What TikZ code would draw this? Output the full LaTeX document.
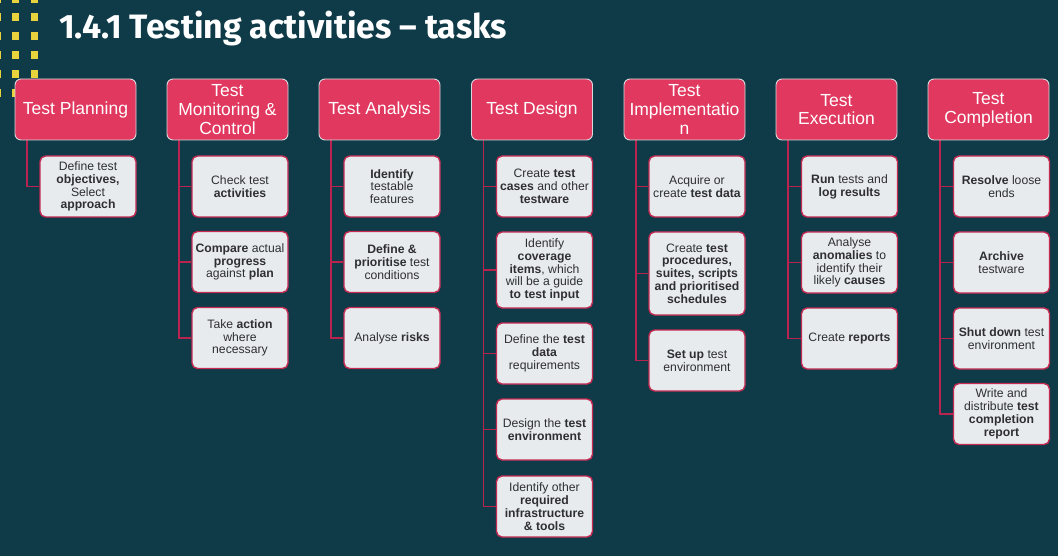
\documentclass[tikz,border=0pt]{standalone}
\usepackage{fontspec}
\usetikzlibrary{backgrounds}
\setmainfont{Liberation Sans}
\newfontfamily\titlefont{Fira Sans}
\definecolor{bgteal}{HTML}{0F3B49}
\definecolor{dotyellow}{HTML}{E9D33C}
\definecolor{headpink}{HTML}{E1385F}
\definecolor{headrim}{HTML}{D8D8DC}
\definecolor{cardfill}{HTML}{E8EBED}
\definecolor{cardrim}{HTML}{C42A52}
\definecolor{linkred}{HTML}{B8244F}
\definecolor{cardtext}{HTML}{2F2F33}
\tikzset{
  head/.style={draw=headrim, line width=0.9pt, fill=headpink, rounded corners=6pt,
    minimum width=121pt, minimum height=61pt, inner sep=1pt, align=center,
    text=white, font=\fontsize{17.5}{18.6}\selectfont},
  card/.style={draw=cardrim, line width=1.4pt, fill=cardfill, rounded corners=5.5pt,
    minimum width=96pt, minimum height=61pt, inner sep=1pt, align=center,
    text=cardtext, font=\fontsize{12.2}{12.8}\selectfont},
  link/.style={draw=linkred, line width=1.6pt}
}
\begin{document}
\begin{tikzpicture}[x=1pt,y=-1pt]
\useasboundingbox (0,0) rectangle (1058,556);

% yellow dot grid in the top-left corner
\foreach \cx in {-2.5,15.5,34.5}
  \foreach \cy in {-1,17,36,55,74,93}
    \fill[dotyellow] (\cx-3.75,\cy-3.75) rectangle (\cx+3.75,\cy+3.75);

% title
\node[anchor=base west, text=white, inner sep=0pt,
      font=\titlefont\bfseries\fontsize{33.8}{36}\selectfont] (title) at (59,38.5)
  {1.4.1 Testing activities – tasks};

% stage headers
\node[head] (h1) at (75.5,109.5) {Test Planning};
\node[head] (h2) at (227.5,109.5) {Test\\Monitoring \&\\Control};
\node[head] (h3) at (379.5,109.5) {Test Analysis};
\node[head] (h4) at (532,109.5) {Test Design};
\node[head] (h5) at (684.5,109.5) {Test\\Implementatio\\n};
\node[head] (h6) at (836.5,109.5) {Test\\Execution};
\node[head] (h7) at (988.5,109.5) {Test\\Completion};

% Test Planning
\node[card] (a1) at (88,186.5) {Define test\\\textbf{objectives,}\\Select\\\textbf{approach}};

% Test Monitoring & Control
\node[card] (b1) at (240,186.5) {Check test\\\textbf{activities}};
\node[card] (b2) at (240,262) {\textbf{Compare} actual\\\textbf{progress}\\against \textbf{plan}};
\node[card] (b3) at (240,338) {Take \textbf{action}\\where\\necessary};

% Test Analysis
\node[card] (c1) at (392,186.5) {\textbf{Identify}\\testable\\features};
\node[card] (c2) at (392,262) {\textbf{Define \&}\\\textbf{prioritise} test\\conditions};
\node[card] (c3) at (392,338) {Analyse \textbf{risks}};

% Test Design
\node[card] (d1) at (544.5,186.5) {Create \textbf{test}\\\textbf{cases} and other\\\textbf{testware}};
\node[card, minimum height=76pt] (d2) at (544.5,270) {Identify\\\textbf{coverage}\\\textbf{items}, which\\will be a guide\\\textbf{to test input}};
\node[card] (d3) at (544.5,353.5) {Define the \textbf{test}\\\textbf{data}\\requirements};
\node[card] (d4) at (544.5,429.5) {Design the \textbf{test}\\\textbf{environment}};
\node[card] (d5) at (544.5,506.5) {Identify other\\\textbf{required}\\\textbf{infrastructure}\\\textbf{\& tools}};

% Test Implementation
\node[card] (e1) at (697,186.5) {Acquire or\\create \textbf{test data}};
\node[card, minimum height=83pt] (e2) at (697,273.5) {Create \textbf{test}\\\textbf{procedures,}\\\textbf{suites, scripts}\\\textbf{and prioritised}\\\textbf{schedules}};
\node[card] (e3) at (697,360.5) {\textbf{Set up} test\\environment};

% Test Execution
\node[card] (f1) at (849.5,186.5) {\textbf{Run} tests and\\\textbf{log results}};
\node[card] (f2) at (849.5,262.5) {Analyse\\\textbf{anomalies} to\\identify their\\likely \textbf{causes}};
\node[card] (f3) at (849.5,338.5) {Create \textbf{reports}};

% Test Completion
\node[card] (g1) at (1001.5,186.5) {\textbf{Resolve} loose\\ends};
\node[card] (g2) at (1001.5,262.5) {\textbf{Archive}\\testware};
\node[card] (g3) at (1001.5,338.5) {\textbf{Shut down} test\\environment};
\node[card] (g4) at (1001.5,414) {Write and\\distribute \textbf{test}\\\textbf{completion}\\\textbf{report}};

% elbow links from each header down its left side to its cards, kept behind the boxes
\begin{scope}[on background layer]
  \fill[bgteal] (0,0) rectangle (1058,556);
  \foreach \h/\cards in {h1/{a1}, h2/{b1,b2,b3}, h3/{c1,c2,c3},
                         h4/{d1,d2,d3,d4,d5}, h5/{e1,e2,e3},
                         h6/{f1,f2,f3}, h7/{g1,g2,g3,g4}}
    \foreach \c in \cards
      \draw[link] ([xshift=12.5pt]\h.south west) |- (\c.west);
\end{scope}
\end{tikzpicture}
\end{document}
